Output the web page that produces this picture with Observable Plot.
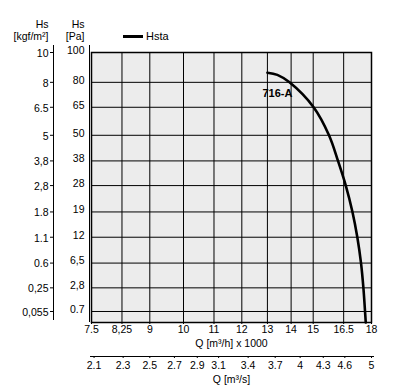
<!DOCTYPE html>
<html><head><meta charset="utf-8">
<script src="https://cdn.jsdelivr.net/npm/d3@7"></script>
<script src="https://cdn.jsdelivr.net/npm/@observablehq/plot@0.6"></script>
<style>
body{margin:0;background:#fff;font-family:"Liberation Sans",Arial,sans-serif;}
#wrap{position:relative;width:409px;height:389px;}
#legend{position:absolute;left:123px;top:29px;font-size:11px;display:flex;align-items:center;height:14px;color:#000;}
#legend .sw{display:inline-block;width:20px;height:3px;background:#000;margin-right:3px;}
</style></head><body>
<div id="wrap"></div>
<script>
// Data
const qTicks = [7.5, 8.25, 9, 10, 11, 12, 13, 14, 15, 16.5, 18];
const qLabels = ["7.5", "8,25", "9", "10", "11", "12", "13", "14", "15", "16.5", "18"];
const qsTicks = [2.1, 2.3, 2.5, 2.7, 2.9, 3.1, 3.4, 3.7, 4, 4.3, 4.6, 5];
const qsLabels = ["2.1", "2.3", "2.5", "2.7", "2.9", "3.1", "3.4", "3.7", "4", "4.3", "4.6", "5"];
const paTicks = [0.7, 2.8, 6.5, 12, 19, 28, 38, 50, 65, 80, 100];
const paLabels = ["0.7", "2,8", "6,5", "12", "19", "28", "38", "50", "65", "80", "100"];
const kgfLabels = ["0,055", "0,25", "0.6", "1.1", "1.8", "2,8", "3,8", "5", "6.5", "8", "10"];
const curveQ = [13.0, 13.41, 13.93, 15.02, 15.76, 16.21, 16.61, 16.96, 17.22, 17.42, 17.55, 17.64, 17.68];
const curveH = [86.2, 84.8, 80, 65, 50, 38, 28, 19, 12, 6.5, 2.8, 0.7, 0.2];
const curveName = "716-A";
const seriesName = "Hsta";
const xTitle = "Q [m³/h] x 1000";
const x2Title = "Q [m³/s]";
const yTitleKgf = ["Hs", "[kgf/m²]"];
const yTitlePa = ["Hs", "[Pa]"];
const xDomain = [7.5, 18];
const yDomain = [0.2, 100];

const curve = curveQ.map((q, i) => ({q, h: curveH[i]}));
const xTickData = qTicks.map((q, i) => ({q, label: qLabels[i]}));
const x2TickData = qsTicks.map((v, i) => ({q: v * 3.6, label: qsLabels[i]})); // m3/h x1000 = m3/s * 3.6
const yTickData = paTicks.map((h, i) => ({h, pa: paLabels[i], kgf: kgfLabels[i]}));
const font = 10.5;
const ff = '"Liberation Sans", Arial, sans-serif';
const W = 409, H = 389, mL = 91, mR = 38, mT = 52, mB = 67;
const fw = W - mL - mR, fh = H - mT - mB;

const plot = Plot.plot({
  width: W, height: H,
  marginLeft: mL, marginRight: mR, marginTop: mT, marginBottom: mB,
  style: {fontFamily: ff, fontSize: font + "px", color: "#000", background: "transparent", overflow: "visible"},
  x: {type: "log", domain: xDomain, axis: null},
  y: {type: "sqrt", domain: yDomain, axis: null},
  marks: [
    Plot.frame({fill: "#ececec", stroke: null}),
    Plot.gridX(qTicks, {stroke: "#000", strokeOpacity: 1, strokeWidth: 1}),
    Plot.gridY(paTicks, {stroke: "#000", strokeOpacity: 1, strokeWidth: 1}),
    Plot.frame({stroke: "#000", strokeWidth: 1.5}),
    // main x axis
    Plot.tickX(xTickData, {x: "q", insetTop: fh - 2, dy: 2, stroke: "#000"}),
    Plot.text(xTickData, {x: "q", frameAnchor: "bottom", text: "label", lineAnchor: "top", dy: 3, fontSize: font}),
    Plot.text([xTitle], {frameAnchor: "bottom", lineAnchor: "top", dy: 17, fontSize: font}),
    // second x axis
    Plot.ruleY([yDomain[0]], {dy: 34, insetLeft: -1, insetRight: -3, stroke: "#000", strokeWidth: 1}),
    Plot.tickX(x2TickData, {x: "q", insetTop: fh - 2, dy: 36, stroke: "#000"}),
    Plot.text(x2TickData, {x: "q", frameAnchor: "bottom", text: "label", lineAnchor: "top", dy: 39, fontSize: font}),
    Plot.text([x2Title], {frameAnchor: "bottom", lineAnchor: "top", dy: 53, fontSize: font}),
    // Pa axis
    Plot.ruleX([xDomain[0]], {dx: -2, insetTop: -7, stroke: "#000", strokeWidth: 1}),
    Plot.text(yTickData, {y: "h", frameAnchor: "left", text: "pa", textAnchor: "end", dx: -7, dy: -2, fontSize: font}),
    Plot.text([yTitlePa.join("\n")], {frameAnchor: "top-left", textAnchor: "end", lineAnchor: "bottom", dx: -7, dy: -13, fontSize: font, lineHeight: 1.05}),
    // kgf/m2 axis
    Plot.ruleX([xDomain[0]], {dx: -38, insetTop: -7, insetBottom: 2, stroke: "#000", strokeWidth: 1}),
    Plot.tickY(yTickData, {y: "h", dx: -41, insetRight: fw - 3, stroke: "#000"}),
    Plot.text(yTickData, {y: "h", frameAnchor: "left", text: "kgf", textAnchor: "end", dx: -43, dy: 1, fontSize: font}),
    Plot.text([yTitleKgf.join("\n")], {frameAnchor: "top-left", textAnchor: "end", lineAnchor: "bottom", dx: -43, dy: -13, fontSize: font, lineHeight: 1.05}),
    // curve
    Plot.line(curve, {x: "q", y: "h", stroke: "#000", strokeWidth: 2.6, curve: "catmull-rom"}),
    Plot.text([curve[0]], {x: "q", y: "h", text: () => curveName, dx: 10, dy: 21, fontWeight: "bold", fontSize: font + 0.5})
  ]
});
const wrap = document.getElementById("wrap");
wrap.appendChild(plot);
const legend = document.createElement("div");
legend.id = "legend";
legend.innerHTML = '<span class="sw"></span>';
legend.appendChild(document.createTextNode(seriesName));
wrap.appendChild(legend);
</script>
</body></html>
